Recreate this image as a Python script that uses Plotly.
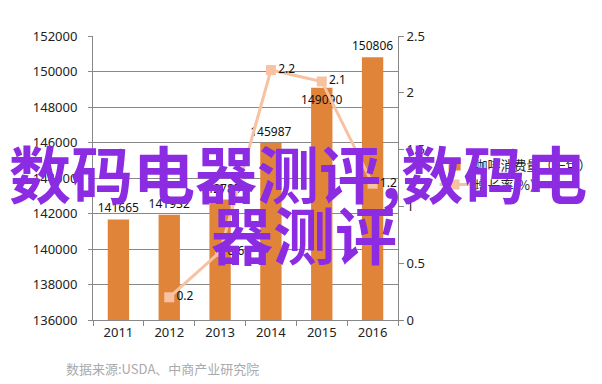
import plotly.graph_objects as go

years = ["2011", "2012", "2013", "2014", "2015", "2016"]
consumption = [141665, 141932, 142785, 145987, 149090, 150806]
growth_years = ["2012", "2013", "2014", "2015", "2016"]
growth = [0.2, 0.6, 2.2, 2.1, 1.2]

bar_color = "#E0843A"
line_color = "#F8C2A2"
tick_font = dict(family="Noto Sans, DejaVu Sans, sans-serif", size=13, color="#222")

fig = go.Figure()
fig.add_trace(go.Bar(
    x=years, y=consumption, name="咖啡消费量（千包）",
    marker=dict(color=bar_color, line=dict(width=0)),
    text=[str(v) for v in consumption],
    textposition=["outside", "outside", "outside", "outside", "inside", "outside"],
    insidetextanchor="end", textangle=0,
    textfont=dict(family="Noto Sans, sans-serif", size=12, color="#111"),
    insidetextfont=dict(family="Noto Sans, sans-serif", size=12, color="#111"),
    constraintext="none", cliponaxis=False, width=0.42,
))
fig.add_trace(go.Scatter(
    x=growth_years, y=growth, name="增长率(%)", yaxis="y2",
    mode="lines+markers+text",
    line=dict(color=line_color, width=3),
    marker=dict(symbol="square", size=10, color=line_color),
    text=[str(v) for v in growth], textposition="middle right",
    textfont=dict(family="Noto Sans, sans-serif", size=12, color="#111"),
    cliponaxis=False,
))

fig.update_layout(
    width=602, height=384,
    margin=dict(l=85, r=202, t=28, b=72),
    paper_bgcolor="white", plot_bgcolor="white",
    bargap=0.58,
    xaxis=dict(
        type="category", tickfont=tick_font, showline=True, linecolor="#888",
        ticks="outside", tickson="boundaries", ticklen=5, tickcolor="#888",
        showgrid=False,
    ),
    yaxis=dict(
        range=[136000, 152000], dtick=2000, tickformat="d", tickfont=tick_font,
        showgrid=True, gridcolor="#888", gridwidth=1,
        showline=True, linecolor="#888", ticks="outside", ticklen=4, tickcolor="#888",
        zeroline=False, ticklabelstandoff=8,
    ),
    yaxis2=dict(
        overlaying="y", side="right", range=[0, 2.5], dtick=0.5,
        tickfont=tick_font, showgrid=False, showline=True, linecolor="#888",
        ticks="outside", ticklen=5, tickcolor="#888", zeroline=False,
    ),
    legend=dict(
        x=1.12, y=0.6, xanchor="left", yanchor="top",
        font=dict(family="Noto Sans CJK SC, sans-serif", size=13, color="#222"),
        bgcolor="rgba(0,0,0,0)", traceorder="normal", itemwidth=30,
        tracegroupgap=8,
    ),
    showlegend=True,
)

fig.add_annotation(
    text="数据来源:USDA、中商产业研究院", xref="paper", yref="paper",
    x=(55 - 85) / 315, y=(312 - 360) / 284, xanchor="left", yanchor="middle",
    showarrow=False,
    font=dict(family="Noto Sans CJK SC, sans-serif", size=13, color="#aaa"),
)
wm_font = dict(family="Noto Sans CJK SC, sans-serif", size=62, color="#8B2BE2")
fig.add_annotation(
    text="<b>数码电器测评,数码电</b>", xref="paper", yref="paper",
    x=(297 - 85) / 315, y=(312 - 164) / 284, xanchor="center", yanchor="middle",
    showarrow=False, font=wm_font,
)
fig.add_annotation(
    text="<b>器测评</b>", xref="paper", yref="paper",
    x=(303 - 85) / 315, y=(312 - 225) / 284, xanchor="center", yanchor="middle",
    showarrow=False, font=wm_font,
)

fig.write_html("out.html")
